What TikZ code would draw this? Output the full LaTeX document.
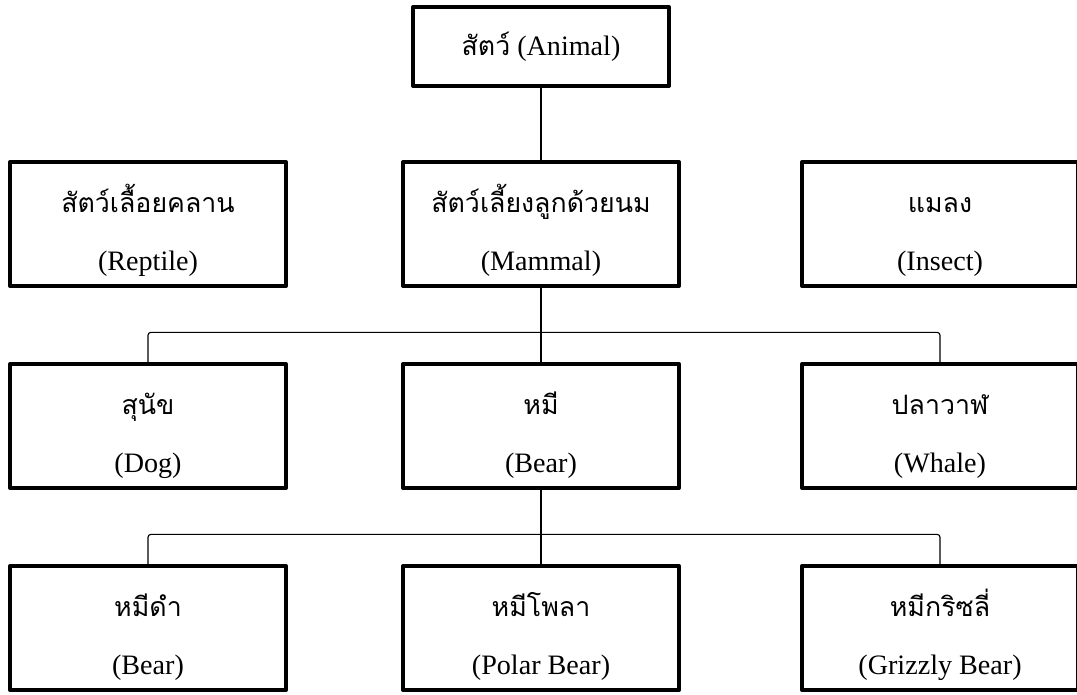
\documentclass[tikz,border=0pt]{standalone}
\usepackage{fontspec}
\setmainfont{Liberation Serif}
\newfontfamily\thaifont[Script=Thai]{Loma}
\usetikzlibrary{calc}
\newcommand\thaitxt[1]{{\thaifont\fontsize{19}{41}\selectfont #1}}

\begin{document}
\begin{tikzpicture}[line cap=round,line join=round,x=0.025cm,y=-0.025cm,
  box/.style={draw,line width=2.8pt,fill=white,minimum width=6.9cm,minimum height=3.1cm,
    inner sep=0pt,align=center,text height=2.3cm,text depth=0pt,font=\fontsize{20}{41}\selectfont},
  topbox/.style={draw,line width=2.8pt,fill=white,minimum width=6.4cm,minimum height=1.975cm,
    inner sep=0pt,font=\fontsize{20}{41}\selectfont},
  link/.style={line width=0.8pt,rounded corners=2pt}]
\useasboundingbox (0,0) rectangle (1077,695);

\node[topbox] (animal) at (541,46.5) {\thaitxt{สัตว์} (Animal)};

\node[box] (reptile) at (148,224) {\thaitxt{สัตว์เลื้อยคลาน}\\(Reptile)};
\node[box] (mammal) at (541,224) {\thaitxt{สัตว์เลี้ยงลูกด้วยนม}\\(Mammal)};
\node[box] (insect) at (940,224) {\thaitxt{แมลง}\\(Insect)};

\node[box] (dog) at (148,426) {\thaitxt{สุนัข}\\(Dog)};
\node[box] (bear) at (541,426) {\thaitxt{หมี}\\(Bear)};
\node[box] (whale) at (940,426) {\thaitxt{ปลาวาฬ}\\(Whale)};

\node[box] (blackbear) at (148,628) {\thaitxt{หมีดำ}\\(Bear)};
\node[box] (polar) at (541,628) {\thaitxt{หมีโพลา}\\(Polar Bear)};
\node[box] (grizzly) at (940,628) {\thaitxt{หมีกริซลี่}\\(Grizzly Bear)};

% links
\draw[link] (animal) -- (mammal);
\coordinate (busa) at ($(mammal.south)!0.6!(bear.north)$);
\coordinate (busb) at ($(bear.south)!0.6!(polar.north)$);
\draw[link] (mammal) -- (bear);
\draw[link] (dog.north) |- (busa) -| (whale.north);
\draw[link] (bear) -- (polar);
\draw[link] (blackbear.north) |- (busb) -| (grizzly.north);
\end{tikzpicture}
\end{document}
